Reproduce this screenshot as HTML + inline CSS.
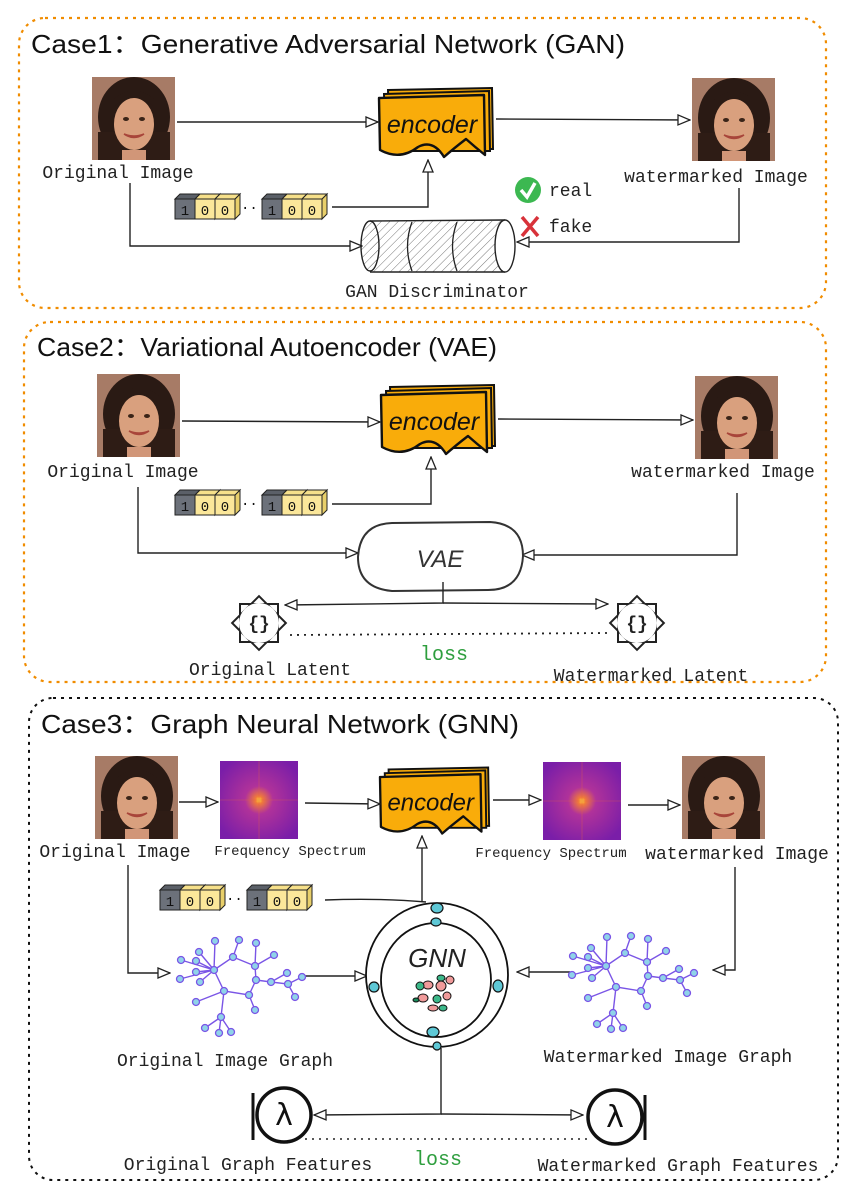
<!DOCTYPE html>
<html><head><meta charset="utf-8"><style>
html,body{margin:0;padding:0;background:#fff;}
svg{display:block;}
.lb{font-family:"Liberation Mono",monospace;font-size:18px;fill:#222;}
.sm{font-family:"Liberation Mono",monospace;font-size:14px;fill:#222;}
.tt{font-family:"Liberation Sans",sans-serif;font-size:26px;fill:#111;}
.ln{fill:none;stroke:#222;stroke-width:1.4;}
</style></head><body>
<svg width="849" height="1189" viewBox="0 0 849 1189" xmlns="http://www.w3.org/2000/svg">
<defs>
<marker id="ar" markerWidth="14" markerHeight="12" refX="13" refY="6" orient="auto" markerUnits="userSpaceOnUse">
<path d="M1,1 L13,6 L1,11 Z" fill="#fff" stroke="#222" stroke-width="1.3"/></marker>
<radialGradient id="spg" cx="50%" cy="50%" r="60%">
<stop offset="0" stop-color="#ffd23a"/><stop offset="0.08" stop-color="#f07a3a"/><stop offset="0.3" stop-color="#b0329a"/><stop offset="1" stop-color="#7a1ea8"/></radialGradient>
<symbol id="face" viewBox="0 0 83 83" overflow="hidden">
<rect width="83" height="83" fill="#a77b66"/>
<ellipse cx="42" cy="40" rx="36" ry="40" fill="#2a1a14"/>
<rect x="6" y="55" width="72" height="28" fill="#2e1c15"/>
<ellipse cx="42" cy="47" rx="20" ry="26" fill="#d9a07e"/>
<path d="M22,30 Q42,10 62,30 L62,22 Q42,5 22,22Z" fill="#2a1a14"/>
<path d="M32,57 Q42,64 52,57 Q42,61 32,57Z" fill="#fff" stroke="#a8453a" stroke-width="1.5"/>
<ellipse cx="34" cy="42" rx="3" ry="2" fill="#3a2418"/><ellipse cx="50" cy="42" rx="3" ry="2" fill="#3a2418"/>
<rect x="30" y="73" width="24" height="10" fill="#d19678"/>
</symbol>
<symbol id="spec" viewBox="0 0 78 78"><rect width="78" height="78" fill="url(#spg)"/><line x1="0" y1="39" x2="78" y2="39" stroke="#e0604a" stroke-width="0.6" opacity="0.6"/><line x1="39" y1="0" x2="39" y2="78" stroke="#e0604a" stroke-width="0.6" opacity="0.6"/></symbol>
<symbol id="enc" viewBox="0 0 118 72" overflow="visible">
<path d="M10,3 L114,1 L115,62 L12,62Z" fill="#f9ac0a" stroke="#111" stroke-width="2"/>
<path d="M6,7 L111,4 L112,64 L8,64Z" fill="#f9ac0a" stroke="#111" stroke-width="2"/>
<path d="M1,11 L106,8 L107,68 Q97,60 88,52 Q75,62 66,70 Q55,52 40,60 Q22,74 2,63Z" fill="#f9ac0a" stroke="#111" stroke-width="2.4" stroke-linejoin="round"/>
<text x="54" y="46" text-anchor="middle" font-family="'Liberation Sans',sans-serif" font-size="25" fill="#111" font-style="italic">encoder</text>
</symbol>
<g id="cube1"><path d="M0,5 L5,0 L25,0 L20,5Z" fill="#5b6068" stroke="#222"/><rect x="0" y="5" width="20" height="20" fill="#6c717a" stroke="#222"/><text x="10" y="21" text-anchor="middle" class="sm" style="fill:#111">1</text></g>
<g id="cube0"><path d="M20,5 L25,0 L25,20 L20,25Z" fill="#e8cf6a" stroke="#222"/><path d="M0,5 L5,0 L25,0 L20,5Z" fill="#f6e08a" stroke="#222"/><rect x="0" y="5" width="20" height="20" fill="#fbe79a" stroke="#222"/><text x="10" y="21" text-anchor="middle" class="sm" style="fill:#111">0</text></g>
<g id="bits">
<use href="#cube1" x="0" y="0"/><use href="#cube0" x="20" y="0"/><use href="#cube0" x="40" y="0"/>
<text x="66" y="18" class="sm" style="fill:#111">··</text>
<use href="#cube1" x="87" y="0"/><use href="#cube0" x="107" y="0"/><use href="#cube0" x="127" y="0"/>
</g>
<g id="lat"><rect x="-19" y="-19" width="38" height="38" fill="none" stroke="#222" stroke-width="2"/><rect x="-19" y="-19" width="38" height="38" fill="none" stroke="#222" stroke-width="2" transform="rotate(45)"/><circle r="20" fill="#fff"/><text y="6" text-anchor="middle" font-family="'Liberation Mono',monospace" font-size="18" font-weight="bold" fill="#222">{}</text></g>
<g id="graph" stroke="#7a55e6" stroke-width="1.4" fill="none">
<path d="M214,970 L233,957 L255,966 L256,980 L249,995 L224,991 Z"/>
<path d="M224,991 L221,1017 M214,970 L215,941 M233,957 L239,940 M255,966 L256,943 M255,966 L274,955 M214,970 L199,952 M214,970 L181,960 M214,970 L196,961 M214,970 L196,972 M214,970 L180,979 M214,970 L200,982 M224,991 L196,1002 M249,995 L255,1010 M256,980 L271,982 L287,973 M271,982 L288,984 L295,997 M288,984 L302,977 M221,1017 L205,1028 M221,1017 L219,1033 M221,1017 L231,1032"/>
<g fill="#8fd3e8" stroke="#7a55e6" stroke-width="1.3">
<circle cx="214" cy="970" r="3.5"/><circle cx="233" cy="957" r="3.5"/><circle cx="255" cy="966" r="3.5"/><circle cx="256" cy="980" r="3.5"/><circle cx="249" cy="995" r="3.5"/><circle cx="224" cy="991" r="3.5"/><circle cx="221" cy="1017" r="3.5"/>
<circle cx="215" cy="941" r="3.5"/><circle cx="239" cy="940" r="3.5"/><circle cx="256" cy="943" r="3.5"/><circle cx="274" cy="955" r="3.5"/><circle cx="199" cy="952" r="3.5"/><circle cx="181" cy="960" r="3.5"/><circle cx="196" cy="961" r="3.5"/><circle cx="196" cy="972" r="3.5"/><circle cx="180" cy="979" r="3.5"/><circle cx="200" cy="982" r="3.5"/><circle cx="196" cy="1002" r="3.5"/><circle cx="255" cy="1010" r="3.5"/><circle cx="271" cy="982" r="3.5"/><circle cx="287" cy="973" r="3.5"/><circle cx="288" cy="984" r="3.5"/><circle cx="295" cy="997" r="3.5"/><circle cx="302" cy="977" r="3.5"/><circle cx="205" cy="1028" r="3.5"/><circle cx="219" cy="1033" r="3.5"/><circle cx="231" cy="1032" r="3.5"/>
</g></g>
<g id="lam"><circle r="27" fill="#fff" stroke="#111" stroke-width="3.5"/><text y="10" text-anchor="middle" font-family="'DejaVu Sans',sans-serif" font-size="30" fill="#111">λ</text></g>
<pattern id="hat" width="6" height="6" patternUnits="userSpaceOnUse" patternTransform="rotate(45)"><line x1="0" y1="0" x2="0" y2="6" stroke="#777" stroke-width="1"/></pattern>
</defs>

<!-- Case 1 -->
<rect x="19" y="18" width="807" height="290" rx="26" fill="none" stroke="#f08c00" stroke-width="2.2" stroke-dasharray="3,5"/>
<text x="31" y="53" class="tt" textLength="594" lengthAdjust="spacingAndGlyphs">Case1：Generative Adversarial Network (GAN)</text>
<use href="#face" x="92" y="77" width="83" height="83"/>
<text x="118" y="178" class="lb" text-anchor="middle">Original Image</text>
<use href="#face" x="692" y="78" width="83" height="83"/>
<text x="716" y="182" class="lb" text-anchor="middle">watermarked Image</text>
<use href="#enc" x="378" y="87" width="118" height="72"/>
<line x1="177" y1="122" x2="378" y2="122" class="ln" marker-end="url(#ar)"/>
<line x1="496" y1="119" x2="690" y2="120" class="ln" marker-end="url(#ar)"/>
<use href="#bits" x="175" y="194"/>
<polyline points="332,207 428,207 428,160" class="ln" marker-end="url(#ar)"/>
<polyline points="130,183 130,246 362,246" class="ln" marker-end="url(#ar)"/>
<polyline points="739,188 739,242 517,242" class="ln" marker-end="url(#ar)"/>
<!-- cylinder -->
<path d="M370,221 L505,221 L505,272 L370,272 Z" fill="url(#hat)" stroke="none"/>
<ellipse cx="370" cy="246" rx="9" ry="25" fill="url(#hat)" stroke="#222" stroke-width="1.4"/>
<line x1="370" y1="221" x2="505" y2="220" stroke="#222" stroke-width="1.4"/>
<line x1="370" y1="272" x2="505" y2="272" stroke="#222" stroke-width="1.4"/>
<path d="M412,222 Q403,246 412,271 M457,222 Q448,246 457,271" fill="none" stroke="#222" stroke-width="1.3"/>
<ellipse cx="505" cy="246" rx="10" ry="26" fill="#fff" stroke="#222" stroke-width="1.4"/>
<text x="437" y="297" class="lb" text-anchor="middle">GAN Discriminator</text>
<circle cx="528" cy="190" r="13" fill="#3cb851"/><path d="M521,190 L527,197 L535,183" fill="none" stroke="#fff" stroke-width="3.5"/>
<text x="549" y="196" class="lb">real</text>
<path d="M522,217 L538,236 M538,217 L522,236" stroke="#d8323a" stroke-width="3.5"/>
<text x="549" y="232" class="lb">fake</text>

<!-- Case 2 -->
<rect x="24" y="322" width="802" height="360" rx="26" fill="none" stroke="#f08c00" stroke-width="2.2" stroke-dasharray="3,5"/>
<text x="37" y="356" class="tt" textLength="460" lengthAdjust="spacingAndGlyphs">Case2：Variational Autoencoder (VAE)</text>
<use href="#face" x="97" y="374" width="83" height="83"/>
<text x="123" y="477" class="lb" text-anchor="middle">Original Image</text>
<use href="#face" x="695" y="376" width="83" height="83"/>
<text x="723" y="477" class="lb" text-anchor="middle">watermarked Image</text>
<use href="#enc" x="380" y="384" width="118" height="72"/>
<line x1="182" y1="421" x2="380" y2="422" class="ln" marker-end="url(#ar)"/>
<line x1="498" y1="419" x2="693" y2="420" class="ln" marker-end="url(#ar)"/>
<use href="#bits" x="175" y="490"/>
<polyline points="332,504 431,504 431,457" class="ln" marker-end="url(#ar)"/>
<polyline points="138,487 138,553 358,553" class="ln" marker-end="url(#ar)"/>
<polyline points="737,493 737,555 522,555" class="ln" marker-end="url(#ar)"/>
<path d="M392,523 L490,522 Q523,524 523,556 Q521,590 488,590 L392,591 Q358,588 358,557 Q360,524 392,523 Z" fill="#fff" stroke="#333" stroke-width="2"/>
<text x="440" y="567" text-anchor="middle" font-family="'Liberation Sans',sans-serif" font-size="24" font-style="italic" fill="#333">VAE</text>
<polyline points="443,582 443,603 285,605" class="ln" marker-end="url(#ar)"/>
<polyline points="443,603 608,604" class="ln" marker-end="url(#ar)"/>
<line x1="290" y1="635" x2="610" y2="633" stroke="#222" stroke-width="1.8" stroke-dasharray="2,5"/>
<use href="#lat" x="259" y="623"/>
<use href="#lat" x="637" y="623"/>
<text x="444" y="660" text-anchor="middle" font-family="'Liberation Mono',monospace" font-size="20" fill="#2e9e3e">loss</text>
<text x="270" y="675" class="lb" text-anchor="middle">Original Latent</text>
<text x="651" y="681" class="lb" text-anchor="middle">Watermarked Latent</text>

<!-- Case 3 -->
<rect x="29" y="698" width="809" height="482" rx="24" fill="none" stroke="#111" stroke-width="2" stroke-dasharray="3,5"/>
<text x="41" y="733" class="tt" textLength="478" lengthAdjust="spacingAndGlyphs">Case3：Graph Neural Network (GNN)</text>
<use href="#face" x="95" y="756" width="83" height="83"/>
<use href="#spec" x="220" y="761" width="78" height="78"/>
<use href="#enc" x="379" y="762" width="113" height="78"/>
<use href="#spec" x="543" y="762" width="78" height="78"/>
<use href="#face" x="682" y="756" width="83" height="83"/>
<text x="115" y="857" class="lb" text-anchor="middle">Original Image</text>
<text x="290" y="855" class="sm" text-anchor="middle">Frequency Spectrum</text>
<text x="551" y="857" class="sm" text-anchor="middle">Frequency Spectrum</text>
<text x="737" y="859" class="lb" text-anchor="middle">watermarked Image</text>
<line x1="179" y1="802" x2="218" y2="802" class="ln" marker-end="url(#ar)"/>
<line x1="305" y1="803" x2="380" y2="804" class="ln" marker-end="url(#ar)"/>
<line x1="493" y1="800" x2="541" y2="800" class="ln" marker-end="url(#ar)"/>
<line x1="628" y1="805" x2="680" y2="805" class="ln" marker-end="url(#ar)"/>
<use href="#bits" x="160" y="885"/>
<path d="M325,900 Q380,898 426,902" class="ln"/>
<line x1="422" y1="902" x2="422" y2="836" class="ln" marker-end="url(#ar)"/>
<polyline points="128,865 128,973 170,973" class="ln" marker-end="url(#ar)"/>
<line x1="305" y1="976" x2="367" y2="976" class="ln" marker-end="url(#ar)"/>
<polyline points="735,867 735,970 713,970" class="ln" marker-end="url(#ar)"/>
<line x1="570" y1="972" x2="517" y2="972" class="ln" marker-end="url(#ar)"/>
<use href="#graph"/>
<use href="#graph" x="392" y="-4"/>
<!-- GNN -->
<ellipse cx="437" cy="975" rx="71" ry="72" fill="#fff" stroke="#111" stroke-width="1.8"/>
<ellipse cx="436" cy="980" rx="55" ry="57" fill="none" stroke="#111" stroke-width="1.8"/>
<text x="437" y="967" text-anchor="middle" font-family="'Liberation Sans',sans-serif" font-size="26" font-style="italic" fill="#222">GNN</text>
<g stroke="#111" stroke-width="1.2" fill="#5ec8d6">
<ellipse cx="437" cy="908" rx="6" ry="5"/><ellipse cx="436" cy="922" rx="5" ry="4"/><ellipse cx="374" cy="987" rx="5" ry="5"/><ellipse cx="498" cy="986" rx="5" ry="6"/><ellipse cx="433" cy="1032" rx="6" ry="5"/><ellipse cx="437" cy="1046" rx="4" ry="4"/>
</g>
<g stroke="#111" stroke-width="1">
<ellipse cx="428" cy="985" rx="5" ry="4" fill="#f09a9a"/><ellipse cx="441" cy="986" rx="5" ry="5" fill="#f09a9a"/><ellipse cx="450" cy="980" rx="4" ry="4" fill="#f09a9a"/><ellipse cx="420" cy="986" rx="4" ry="4" fill="#3cb88a"/><ellipse cx="441" cy="978" rx="4" ry="3" fill="#3cb88a"/><ellipse cx="423" cy="998" rx="5" ry="4" fill="#f09a9a"/><ellipse cx="437" cy="999" rx="4" ry="4" fill="#3cb88a"/><ellipse cx="447" cy="996" rx="4" ry="4" fill="#f09a9a"/><ellipse cx="433" cy="1008" rx="5" ry="3" fill="#f09a9a"/><ellipse cx="443" cy="1008" rx="4" ry="3" fill="#3cb88a"/><ellipse cx="416" cy="1000" rx="3" ry="2" fill="#1a8a5a"/>
</g>
<text x="225" y="1066" class="lb" text-anchor="middle">Original Image Graph</text>
<text x="668" y="1062" class="lb" text-anchor="middle">Watermarked Image Graph</text>
<polyline points="441,1048 441,1114 314,1115" class="ln" marker-end="url(#ar)"/>
<polyline points="441,1114 583,1115" class="ln" marker-end="url(#ar)"/>
<line x1="305" y1="1139" x2="590" y2="1139" stroke="#222" stroke-width="1.6" stroke-dasharray="2,5"/>
<use href="#lam" x="284" y="1115"/>
<line x1="253" y1="1093" x2="253" y2="1140" stroke="#111" stroke-width="3"/>
<use href="#lam" x="615" y="1117"/>
<line x1="645" y1="1095" x2="645" y2="1140" stroke="#111" stroke-width="3"/>
<text x="248" y="1170" class="lb" text-anchor="middle">Original Graph Features</text>
<text x="438" y="1165" text-anchor="middle" font-family="'Liberation Mono',monospace" font-size="20" fill="#2e9e3e">loss</text>
<text x="678" y="1171" class="lb" text-anchor="middle">Watermarked Graph Features</text>
</svg>
</body></html>
